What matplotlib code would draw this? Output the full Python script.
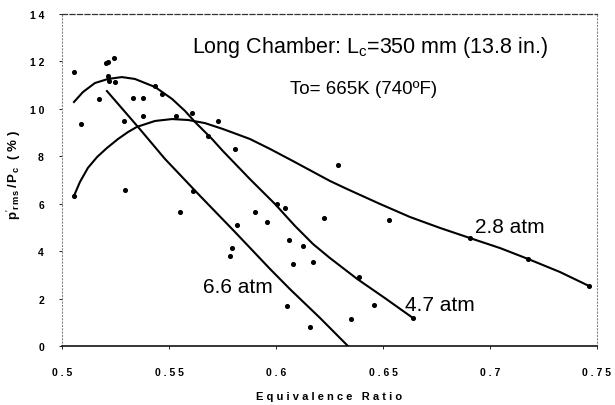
import numpy as np
import matplotlib.pyplot as plt

plt.rcParams['font.family'] = ['Liberation Sans', 'DejaVu Sans']
plt.rcParams['mathtext.fontset'] = 'custom'
plt.rcParams['mathtext.rm'] = 'Liberation Sans'
plt.rcParams['mathtext.it'] = 'Liberation Sans'
plt.rcParams['mathtext.bf'] = 'Liberation Sans:bold'

# measured points (equivalence ratio, p'rms/Pc in %)
phi_pts = [0.5056, 0.5089, 0.5173, 0.5206, 0.5215, 0.5243, 0.5215, 0.5220,
           0.5248, 0.5332, 0.5379, 0.5290, 0.5379, 0.5435, 0.5467, 0.5533,
           0.5607, 0.5729, 0.5682, 0.5808, 0.5294, 0.5612, 0.5056, 0.5551,
           0.5818, 0.5902, 0.5958, 0.6005, 0.6042, 0.6061, 0.6126, 0.5794,
           0.5785, 0.6079, 0.6173, 0.6224, 0.6051, 0.6159, 0.6388, 0.6458,
           0.6350, 0.6290, 0.6528, 0.6907, 0.7178, 0.7463, 0.6640]
prms_pts = [11.55, 9.36, 10.42, 11.93, 11.98, 12.14, 11.39, 11.17,
            11.13, 10.46, 10.46, 9.49, 9.70, 10.96, 10.63, 9.70,
            9.83, 9.49, 8.86, 8.31, 6.58, 6.54, 6.33, 5.65,
            5.10, 5.65, 5.23, 5.99, 5.82, 4.47, 4.22, 4.13,
            3.80, 3.46, 3.54, 5.40, 1.69, 0.80, 2.91, 1.73,
            1.14, 7.63, 5.31, 4.55, 3.67, 2.53, 1.18]

# trend curves as drawn in the original
phi_28 = [0.5056, 0.5084, 0.5121, 0.5164, 0.5210, 0.5262, 0.5308, 0.5350,
          0.5435, 0.5514, 0.5589, 0.5668, 0.5752, 0.5878, 0.5972, 0.6079,
          0.6252, 0.6332, 0.6486, 0.6626, 0.6766, 0.6907, 0.7047, 0.7178,
          0.7327, 0.7463]
prms_28 = [6.33, 6.92, 7.51, 7.97, 8.35, 8.73, 9.02, 9.24,
           9.49, 9.57, 9.53, 9.40, 9.15, 8.73, 8.31, 7.80,
           6.96, 6.62, 5.99, 5.44, 4.98, 4.55, 4.13, 3.67,
           3.12, 2.53]

phi_47 = [0.5056, 0.5098, 0.5154, 0.5215, 0.5280, 0.5341, 0.5435, 0.5514,
          0.5575, 0.5621, 0.5701, 0.5752, 0.5878, 0.5995, 0.6089, 0.6173,
          0.6252, 0.6379, 0.6509, 0.6640]
prms_47 = [10.29, 10.71, 11.09, 11.26, 11.34, 11.26, 10.92, 10.42,
           9.91, 9.45, 8.73, 8.22, 7.04, 5.99, 5.06, 4.30,
           3.71, 2.83, 2.02, 1.18]

phi_66 = [0.5210, 0.5355, 0.5481, 0.5645, 0.5808, 0.5972, 0.6065, 0.6206, 0.6336]
prms_66 = [10.75, 9.24, 7.89, 6.33, 4.81, 3.25, 2.40, 1.18, 0.0]

xticks = [0.5, 0.55, 0.6, 0.65, 0.7, 0.75]
xticklabels = ['0.5', '0.55', '0.6', '0.65', '0.7', '0.75']
yticks = [0, 2, 4, 6, 8, 10, 12, 14]


def spaced(s):
    # the original has wide letter spacing on the axis texts
    return ' '.join(s)


fig = plt.figure(figsize=(6.15, 4.06), dpi=100)
ax = fig.add_axes([62 / 615, 1 - 347 / 406, 535 / 615, 332 / 406])

ax.scatter(phi_pts, prms_pts, s=7, color='black', zorder=3)
for px, py in [(phi_28, prms_28), (phi_47, prms_47), (phi_66, prms_66)]:
    ax.plot(px, py, color='black', lw=1.5)

ax.set_xlim(0.5, 0.75)
ax.set_ylim(0, 14)
ax.set_xticks(xticks)
ax.set_xticklabels([spaced(t) for t in xticklabels], fontsize=7.5, fontweight='bold')
ax.set_yticks(yticks)
ax.set_yticklabels([spaced(str(t)) for t in yticks], fontsize=7.5, fontweight='bold')
ax.tick_params(axis='x', length=2, pad=13, width=0.6)
ax.tick_params(axis='y', length=2, pad=11, width=0.6)

ax.spines['bottom'].set_linewidth(1.1)
ax.spines['top'].set_linestyle((0, (4, 2)))
ax.spines['top'].set_color('#333333')
ax.spines['top'].set_linewidth(0.9)
for side in ['left', 'right']:
    ax.spines[side].set_linestyle((0, (1, 2)))
    ax.spines[side].set_color('#888888')
    ax.spines[side].set_linewidth(0.8)

ax.set_xlabel(spaced('Equivalence') + '   ' + spaced('Ratio'), fontsize=8,
              fontweight='bold', labelpad=10)
ax.set_ylabel(r"$\mathbf{p}'_{\mathbf{r\,m\,s}}\mathbf{\,/\,P_{\,c}}$  ( % )",
              fontsize=9.5, fontweight='bold')
ax.yaxis.set_label_coords(-0.073, 0.518)

ax.text(0.5607, 12.61, r'Long Chamber: L$_{\mathrm{c}}$=350 mm (13.8 in.)',
        fontsize=15.5, va='center')
ax.text(0.6065, 10.84, 'To= 665K (740ºF)', fontsize=13.5, va='center')
ax.text(0.6929, 5.06, '2.8 atm', fontsize=15, va='center')
ax.text(0.6603, 1.77, '4.7 atm', fontsize=15, va='center')
ax.text(0.5659, 2.49, '6.6 atm', fontsize=15, va='center')

fig.savefig('out.png', dpi=100)
